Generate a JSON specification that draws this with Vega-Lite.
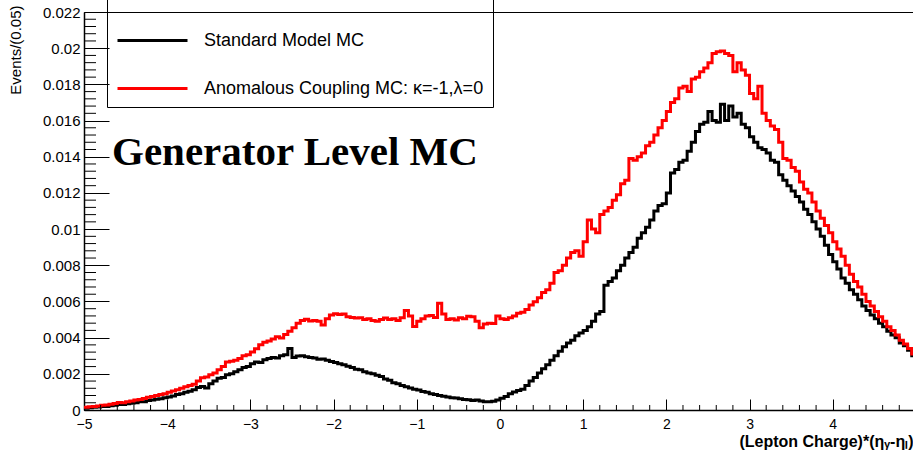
{
  "$schema": "https://vega.github.io/schema/vega-lite/v6.json",
  "width": 829,
  "height": 398,
  "autosize": {"type": "none"},
  "padding": {"left": 84, "top": 12, "right": 0, "bottom": 46},
  "background": "white",
  "config": {"view": {"stroke": "black", "strokeWidth": 1}, "font": "Liberation Sans"},
  "layer": [
    {
      "data": {"values": [
        {"x": -5.00, "sm": 0.00010, "ac": 0.00015},
        {"x": -4.95, "sm": 0.00012, "ac": 0.00018},
        {"x": -4.90, "sm": 0.00015, "ac": 0.00020},
        {"x": -4.85, "sm": 0.00016, "ac": 0.00022},
        {"x": -4.80, "sm": 0.00019, "ac": 0.00026},
        {"x": -4.75, "sm": 0.00020, "ac": 0.00028},
        {"x": -4.70, "sm": 0.00024, "ac": 0.00032},
        {"x": -4.65, "sm": 0.00026, "ac": 0.00036},
        {"x": -4.60, "sm": 0.00030, "ac": 0.00042},
        {"x": -4.55, "sm": 0.00030, "ac": 0.00040},
        {"x": -4.50, "sm": 0.00035, "ac": 0.00046},
        {"x": -4.45, "sm": 0.00038, "ac": 0.00050},
        {"x": -4.40, "sm": 0.00040, "ac": 0.00055},
        {"x": -4.35, "sm": 0.00045, "ac": 0.00058},
        {"x": -4.30, "sm": 0.00046, "ac": 0.00064},
        {"x": -4.25, "sm": 0.00052, "ac": 0.00070},
        {"x": -4.20, "sm": 0.00055, "ac": 0.00074},
        {"x": -4.15, "sm": 0.00060, "ac": 0.00080},
        {"x": -4.10, "sm": 0.00062, "ac": 0.00086},
        {"x": -4.05, "sm": 0.00068, "ac": 0.00090},
        {"x": -4.00, "sm": 0.00072, "ac": 0.00098},
        {"x": -3.95, "sm": 0.00078, "ac": 0.00105},
        {"x": -3.90, "sm": 0.00085, "ac": 0.00112},
        {"x": -3.85, "sm": 0.00090, "ac": 0.00120},
        {"x": -3.80, "sm": 0.00098, "ac": 0.00128},
        {"x": -3.75, "sm": 0.00104, "ac": 0.00135},
        {"x": -3.70, "sm": 0.00112, "ac": 0.00142},
        {"x": -3.65, "sm": 0.00125, "ac": 0.00160},
        {"x": -3.60, "sm": 0.00130, "ac": 0.00178},
        {"x": -3.55, "sm": 0.00122, "ac": 0.00182},
        {"x": -3.50, "sm": 0.00145, "ac": 0.00195},
        {"x": -3.45, "sm": 0.00160, "ac": 0.00205},
        {"x": -3.40, "sm": 0.00175, "ac": 0.00222},
        {"x": -3.35, "sm": 0.00180, "ac": 0.00240},
        {"x": -3.30, "sm": 0.00195, "ac": 0.00265},
        {"x": -3.25, "sm": 0.00200, "ac": 0.00270},
        {"x": -3.20, "sm": 0.00212, "ac": 0.00275},
        {"x": -3.15, "sm": 0.00222, "ac": 0.00285},
        {"x": -3.10, "sm": 0.00235, "ac": 0.00300},
        {"x": -3.05, "sm": 0.00240, "ac": 0.00305},
        {"x": -3.00, "sm": 0.00255, "ac": 0.00320},
        {"x": -2.95, "sm": 0.00265, "ac": 0.00338},
        {"x": -2.90, "sm": 0.00262, "ac": 0.00360},
        {"x": -2.85, "sm": 0.00278, "ac": 0.00375},
        {"x": -2.80, "sm": 0.00285, "ac": 0.00382},
        {"x": -2.75, "sm": 0.00290, "ac": 0.00392},
        {"x": -2.70, "sm": 0.00288, "ac": 0.00405},
        {"x": -2.65, "sm": 0.00300, "ac": 0.00398},
        {"x": -2.60, "sm": 0.00305, "ac": 0.00418},
        {"x": -2.55, "sm": 0.00340, "ac": 0.00435},
        {"x": -2.50, "sm": 0.00290, "ac": 0.00455},
        {"x": -2.45, "sm": 0.00298, "ac": 0.00480},
        {"x": -2.40, "sm": 0.00300, "ac": 0.00495},
        {"x": -2.35, "sm": 0.00295, "ac": 0.00502},
        {"x": -2.30, "sm": 0.00290, "ac": 0.00492},
        {"x": -2.25, "sm": 0.00288, "ac": 0.00495},
        {"x": -2.20, "sm": 0.00280, "ac": 0.00490},
        {"x": -2.15, "sm": 0.00282, "ac": 0.00470},
        {"x": -2.10, "sm": 0.00275, "ac": 0.00505},
        {"x": -2.05, "sm": 0.00268, "ac": 0.00525},
        {"x": -2.00, "sm": 0.00262, "ac": 0.00532},
        {"x": -1.95, "sm": 0.00255, "ac": 0.00528},
        {"x": -1.90, "sm": 0.00250, "ac": 0.00530},
        {"x": -1.85, "sm": 0.00242, "ac": 0.00515},
        {"x": -1.80, "sm": 0.00235, "ac": 0.00512},
        {"x": -1.75, "sm": 0.00225, "ac": 0.00508},
        {"x": -1.70, "sm": 0.00222, "ac": 0.00510},
        {"x": -1.65, "sm": 0.00212, "ac": 0.00500},
        {"x": -1.60, "sm": 0.00205, "ac": 0.00505},
        {"x": -1.55, "sm": 0.00200, "ac": 0.00495},
        {"x": -1.50, "sm": 0.00192, "ac": 0.00490},
        {"x": -1.45, "sm": 0.00185, "ac": 0.00500},
        {"x": -1.40, "sm": 0.00172, "ac": 0.00508},
        {"x": -1.35, "sm": 0.00165, "ac": 0.00500},
        {"x": -1.30, "sm": 0.00150, "ac": 0.00505},
        {"x": -1.25, "sm": 0.00145, "ac": 0.00495},
        {"x": -1.20, "sm": 0.00135, "ac": 0.00510},
        {"x": -1.15, "sm": 0.00128, "ac": 0.00550},
        {"x": -1.10, "sm": 0.00122, "ac": 0.00520},
        {"x": -1.05, "sm": 0.00115, "ac": 0.00462},
        {"x": -1.00, "sm": 0.00110, "ac": 0.00490},
        {"x": -0.95, "sm": 0.00102, "ac": 0.00505},
        {"x": -0.90, "sm": 0.00098, "ac": 0.00520},
        {"x": -0.85, "sm": 0.00090, "ac": 0.00522},
        {"x": -0.80, "sm": 0.00085, "ac": 0.00512},
        {"x": -0.75, "sm": 0.00080, "ac": 0.00590},
        {"x": -0.70, "sm": 0.00076, "ac": 0.00530},
        {"x": -0.65, "sm": 0.00072, "ac": 0.00500},
        {"x": -0.60, "sm": 0.00068, "ac": 0.00505},
        {"x": -0.55, "sm": 0.00066, "ac": 0.00498},
        {"x": -0.50, "sm": 0.00062, "ac": 0.00510},
        {"x": -0.45, "sm": 0.00058, "ac": 0.00505},
        {"x": -0.40, "sm": 0.00056, "ac": 0.00518},
        {"x": -0.35, "sm": 0.00052, "ac": 0.00515},
        {"x": -0.30, "sm": 0.00055, "ac": 0.00490},
        {"x": -0.25, "sm": 0.00050, "ac": 0.00455},
        {"x": -0.20, "sm": 0.00046, "ac": 0.00475},
        {"x": -0.15, "sm": 0.00045, "ac": 0.00480},
        {"x": -0.10, "sm": 0.00048, "ac": 0.00478},
        {"x": -0.05, "sm": 0.00055, "ac": 0.00520},
        {"x": 0.00, "sm": 0.00065, "ac": 0.00505},
        {"x": 0.05, "sm": 0.00075, "ac": 0.00500},
        {"x": 0.10, "sm": 0.00090, "ac": 0.00510},
        {"x": 0.15, "sm": 0.00100, "ac": 0.00520},
        {"x": 0.20, "sm": 0.00108, "ac": 0.00535},
        {"x": 0.25, "sm": 0.00115, "ac": 0.00540},
        {"x": 0.30, "sm": 0.00135, "ac": 0.00555},
        {"x": 0.35, "sm": 0.00160, "ac": 0.00580},
        {"x": 0.40, "sm": 0.00180, "ac": 0.00598},
        {"x": 0.45, "sm": 0.00205, "ac": 0.00620},
        {"x": 0.50, "sm": 0.00228, "ac": 0.00650},
        {"x": 0.55, "sm": 0.00250, "ac": 0.00665},
        {"x": 0.60, "sm": 0.00275, "ac": 0.00700},
        {"x": 0.65, "sm": 0.00300, "ac": 0.00760},
        {"x": 0.70, "sm": 0.00325, "ac": 0.00770},
        {"x": 0.75, "sm": 0.00350, "ac": 0.00800},
        {"x": 0.80, "sm": 0.00370, "ac": 0.00840},
        {"x": 0.85, "sm": 0.00385, "ac": 0.00870},
        {"x": 0.90, "sm": 0.00410, "ac": 0.00880},
        {"x": 0.95, "sm": 0.00425, "ac": 0.00850},
        {"x": 1.00, "sm": 0.00440, "ac": 0.00930},
        {"x": 1.05, "sm": 0.00460, "ac": 0.01050},
        {"x": 1.10, "sm": 0.00490, "ac": 0.01000},
        {"x": 1.15, "sm": 0.00530, "ac": 0.00980},
        {"x": 1.20, "sm": 0.00545, "ac": 0.01080},
        {"x": 1.25, "sm": 0.00690, "ac": 0.01100},
        {"x": 1.30, "sm": 0.00710, "ac": 0.01120},
        {"x": 1.35, "sm": 0.00730, "ac": 0.01160},
        {"x": 1.40, "sm": 0.00770, "ac": 0.01190},
        {"x": 1.45, "sm": 0.00800, "ac": 0.01250},
        {"x": 1.50, "sm": 0.00840, "ac": 0.01270},
        {"x": 1.55, "sm": 0.00870, "ac": 0.01390},
        {"x": 1.60, "sm": 0.00900, "ac": 0.01380},
        {"x": 1.65, "sm": 0.00950, "ac": 0.01400},
        {"x": 1.70, "sm": 0.00980, "ac": 0.01420},
        {"x": 1.75, "sm": 0.01010, "ac": 0.01460},
        {"x": 1.80, "sm": 0.01050, "ac": 0.01480},
        {"x": 1.85, "sm": 0.01100, "ac": 0.01520},
        {"x": 1.90, "sm": 0.01130, "ac": 0.01560},
        {"x": 1.95, "sm": 0.01140, "ac": 0.01600},
        {"x": 2.00, "sm": 0.01200, "ac": 0.01650},
        {"x": 2.05, "sm": 0.01310, "ac": 0.01700},
        {"x": 2.10, "sm": 0.01330, "ac": 0.01720},
        {"x": 2.15, "sm": 0.01370, "ac": 0.01780},
        {"x": 2.20, "sm": 0.01380, "ac": 0.01790},
        {"x": 2.25, "sm": 0.01430, "ac": 0.01760},
        {"x": 2.30, "sm": 0.01480, "ac": 0.01830},
        {"x": 2.35, "sm": 0.01540, "ac": 0.01840},
        {"x": 2.40, "sm": 0.01580, "ac": 0.01870},
        {"x": 2.45, "sm": 0.01590, "ac": 0.01890},
        {"x": 2.50, "sm": 0.01650, "ac": 0.01920},
        {"x": 2.55, "sm": 0.01600, "ac": 0.01970},
        {"x": 2.60, "sm": 0.01590, "ac": 0.01980},
        {"x": 2.65, "sm": 0.01690, "ac": 0.01985},
        {"x": 2.70, "sm": 0.01600, "ac": 0.01970},
        {"x": 2.75, "sm": 0.01680, "ac": 0.01960},
        {"x": 2.80, "sm": 0.01620, "ac": 0.01870},
        {"x": 2.85, "sm": 0.01640, "ac": 0.01920},
        {"x": 2.90, "sm": 0.01580, "ac": 0.01880},
        {"x": 2.95, "sm": 0.01560, "ac": 0.01850},
        {"x": 3.00, "sm": 0.01510, "ac": 0.01750},
        {"x": 3.05, "sm": 0.01480, "ac": 0.01720},
        {"x": 3.10, "sm": 0.01450, "ac": 0.01790},
        {"x": 3.15, "sm": 0.01440, "ac": 0.01640},
        {"x": 3.20, "sm": 0.01420, "ac": 0.01600},
        {"x": 3.25, "sm": 0.01380, "ac": 0.01570},
        {"x": 3.30, "sm": 0.01370, "ac": 0.01550},
        {"x": 3.35, "sm": 0.01300, "ac": 0.01480},
        {"x": 3.40, "sm": 0.01270, "ac": 0.01390},
        {"x": 3.45, "sm": 0.01240, "ac": 0.01380},
        {"x": 3.50, "sm": 0.01210, "ac": 0.01340},
        {"x": 3.55, "sm": 0.01180, "ac": 0.01320},
        {"x": 3.60, "sm": 0.01150, "ac": 0.01260},
        {"x": 3.65, "sm": 0.01110, "ac": 0.01220},
        {"x": 3.70, "sm": 0.01080, "ac": 0.01200},
        {"x": 3.75, "sm": 0.01040, "ac": 0.01150},
        {"x": 3.80, "sm": 0.01000, "ac": 0.01100},
        {"x": 3.85, "sm": 0.00960, "ac": 0.01060},
        {"x": 3.90, "sm": 0.00910, "ac": 0.01020},
        {"x": 3.95, "sm": 0.00860, "ac": 0.00980},
        {"x": 4.00, "sm": 0.00820, "ac": 0.00930},
        {"x": 4.05, "sm": 0.00780, "ac": 0.00890},
        {"x": 4.10, "sm": 0.00730, "ac": 0.00850},
        {"x": 4.15, "sm": 0.00700, "ac": 0.00800},
        {"x": 4.20, "sm": 0.00665, "ac": 0.00750},
        {"x": 4.25, "sm": 0.00640, "ac": 0.00710},
        {"x": 4.30, "sm": 0.00610, "ac": 0.00680},
        {"x": 4.35, "sm": 0.00575, "ac": 0.00640},
        {"x": 4.40, "sm": 0.00550, "ac": 0.00600},
        {"x": 4.45, "sm": 0.00525, "ac": 0.00575},
        {"x": 4.50, "sm": 0.00505, "ac": 0.00545},
        {"x": 4.55, "sm": 0.00480, "ac": 0.00515},
        {"x": 4.60, "sm": 0.00460, "ac": 0.00490},
        {"x": 4.65, "sm": 0.00435, "ac": 0.00460},
        {"x": 4.70, "sm": 0.00415, "ac": 0.00440},
        {"x": 4.75, "sm": 0.00400, "ac": 0.00415},
        {"x": 4.80, "sm": 0.00370, "ac": 0.00385},
        {"x": 4.85, "sm": 0.00355, "ac": 0.00365},
        {"x": 4.90, "sm": 0.00330, "ac": 0.00340},
        {"x": 4.95, "sm": 0.00300, "ac": 0.00310},
        {"x": 5.00, "sm": 0.00300, "ac": 0.00310}
      ]},
      "transform": [{"fold": ["sm", "ac"], "as": ["series", "value"]}],
      "mark": {"type": "line", "interpolate": "step-after", "strokeWidth": 3, "clip": true},
      "encoding": {
        "x": {"field": "x", "type": "quantitative",
          "scale": {"domain": [-5, 4.965], "nice": false, "zero": false},
          "axis": {"orient": "bottom", "values": [-5, -4, -3, -2, -1, 0, 1, 2, 3, 4], "format": "d",
            "tickSize": -11, "tickColor": "black", "tickWidth": 1, "labelPadding": 18,
            "labelFontSize": 14, "labelColor": "black", "labelFlush": false, "labelOverlap": false,
            "domainColor": "black", "domainWidth": 1.5, "grid": false,
            "title": "(Lepton Charge)*(ηᵧ-ηₗ)", "titleAnchor": "end", "titleAlign": "right",
            "titleFontSize": 16, "titleFontWeight": "bold", "titleColor": "black",
            "titleY": 36, "titleBaseline": "alphabetic"}},
        "y": {"field": "value", "type": "quantitative",
          "scale": {"domain": [0, 0.022], "nice": false},
          "axis": {"orient": "left", "values": [0, 0.002, 0.004, 0.006, 0.008, 0.01, 0.012, 0.014, 0.016, 0.018, 0.02, 0.022],
            "format": "~g", "tickSize": -25, "tickColor": "black", "tickWidth": 1, "labelPadding": 29,
            "labelFontSize": 15, "labelColor": "black", "labelFlush": false, "labelOverlap": false,
            "domainColor": "black", "domainWidth": 1.5, "grid": false,
            "title": "Events/(0.05)", "titleAnchor": "end", "titleAlign": "right", "titleAngle": -90,
            "titleBaseline": "middle", "titleX": -69, "titleY": -7,
            "titleFontSize": 15, "titleFontWeight": "normal", "titleColor": "black"}},
        "color": {"field": "series", "type": "nominal",
          "scale": {"domain": ["sm", "ac"], "range": ["black", "red"]},
          "legend": {"orient": "none", "legendX": 23, "legendY": -17,
            "title": null,
            "strokeColor": "black", "padding": 9,
            "symbolType": "stroke", "symbolSize": 4900, "symbolStrokeWidth": 3,
            "labelFontSize": 18, "labelOffset": 15, "labelColor": "black", "labelLimit": 0,
            "rowPadding": 2,
            "labelExpr": "datum.label == 'sm' ? 'Standard Model MC' : 'Anomalous Coupling MC: κ=-1,λ=0'"}}
      }
    },
    {
      "data": {"values": [
        {"t": -4.8}, {"t": -4.6}, {"t": -4.4}, {"t": -4.2},
        {"t": -3.8}, {"t": -3.6}, {"t": -3.4}, {"t": -3.2},
        {"t": -2.8}, {"t": -2.6}, {"t": -2.4}, {"t": -2.2},
        {"t": -1.8}, {"t": -1.6}, {"t": -1.4}, {"t": -1.2},
        {"t": -0.8}, {"t": -0.6}, {"t": -0.4}, {"t": -0.2},
        {"t": 0.2}, {"t": 0.4}, {"t": 0.6}, {"t": 0.8},
        {"t": 1.2}, {"t": 1.4}, {"t": 1.6}, {"t": 1.8},
        {"t": 2.2}, {"t": 2.4}, {"t": 2.6}, {"t": 2.8},
        {"t": 3.2}, {"t": 3.4}, {"t": 3.6}, {"t": 3.8},
        {"t": 4.2}, {"t": 4.4}, {"t": 4.6}, {"t": 4.8}
      ]},
      "mark": {"type": "tick", "orient": "vertical", "size": 5, "thickness": 1, "color": "black", "opacity": 1, "yOffset": -2.5},
      "encoding": {
        "x": {"field": "t", "type": "quantitative", "axis": null},
        "y": {"datum": 0, "type": "quantitative", "axis": null}
      }
    },
    {
      "data": {"values": [
        {"t": 0.0004}, {"t": 0.0008}, {"t": 0.0012}, {"t": 0.0016},
        {"t": 0.0024}, {"t": 0.0028}, {"t": 0.0032}, {"t": 0.0036},
        {"t": 0.0044}, {"t": 0.0048}, {"t": 0.0052}, {"t": 0.0056},
        {"t": 0.0064}, {"t": 0.0068}, {"t": 0.0072}, {"t": 0.0076},
        {"t": 0.0084}, {"t": 0.0088}, {"t": 0.0092}, {"t": 0.0096},
        {"t": 0.0104}, {"t": 0.0108}, {"t": 0.0112}, {"t": 0.0116},
        {"t": 0.0124}, {"t": 0.0128}, {"t": 0.0132}, {"t": 0.0136},
        {"t": 0.0144}, {"t": 0.0148}, {"t": 0.0152}, {"t": 0.0156},
        {"t": 0.0164}, {"t": 0.0168}, {"t": 0.0172}, {"t": 0.0176},
        {"t": 0.0184}, {"t": 0.0188}, {"t": 0.0192}, {"t": 0.0196},
        {"t": 0.0204}, {"t": 0.0208}, {"t": 0.0212}, {"t": 0.0216}
      ]},
      "mark": {"type": "tick", "orient": "horizontal", "size": 12, "thickness": 1, "color": "black", "opacity": 1, "xOffset": 6},
      "encoding": {
        "y": {"field": "t", "type": "quantitative", "axis": null},
        "x": {"datum": -5, "type": "quantitative", "axis": null}
      }
    },
    {
      "data": {"values": [{"label": "Generator Level MC"}]},
      "mark": {"type": "text", "align": "left", "baseline": "alphabetic", "font": "Liberation Serif", "fontWeight": "bold", "fontSize": 41, "color": "black"},
      "encoding": {
        "x": {"datum": -4.663, "type": "quantitative", "axis": null},
        "y": {"datum": 0.01354, "type": "quantitative", "axis": null},
        "text": {"field": "label"}
      }
    }
  ],
  "resolve": {"axis": {"x": "independent", "y": "independent"}}
}
